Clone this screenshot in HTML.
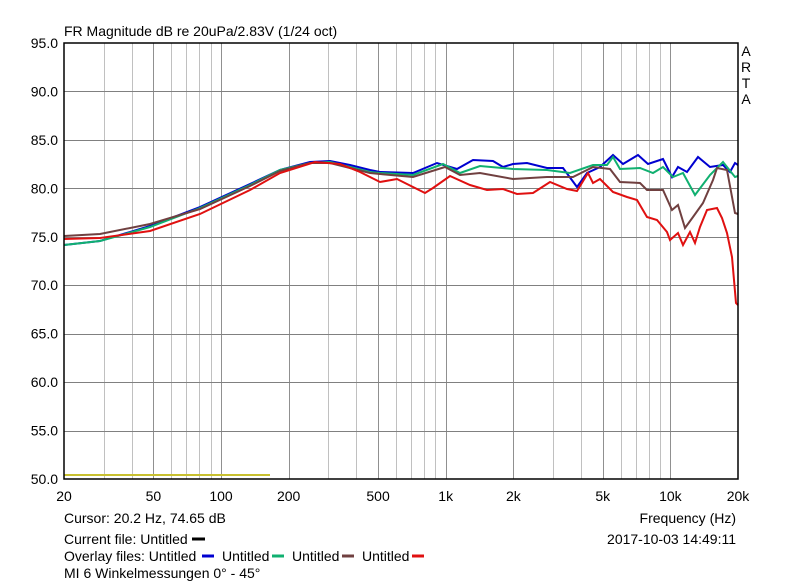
<!DOCTYPE html>
<html><head><meta charset="utf-8"><style>
body{margin:0;background:#fff;}
svg{display:block;font-family:"Liberation Sans",sans-serif;}
</style></head><body>
<svg width="800" height="585" viewBox="0 0 800 585" xmlns="http://www.w3.org/2000/svg">
<rect width="800" height="585" fill="#fff"/>
<g id="g"></g>
<text x="64" y="36" font-size="14" fill="#000">FR Magnitude dB re 20uPa/2.83V (1/24 oct)</text>
<g font-size="14" fill="#000" text-anchor="middle">
<text x="746" y="56">A</text><text x="746" y="72">R</text><text x="746" y="88">T</text><text x="746" y="104">A</text>
</g>
<g font-size="14" fill="#000" text-anchor="end" id="yl"></g>
<g font-size="14" fill="#000" text-anchor="middle" id="xl"></g>
<line x1="64" y1="475" x2="270" y2="475" stroke="#c8c030" stroke-width="2"/>
<polyline fill="none" stroke="#0000d0" stroke-width="2" points="64,245 100,241 150,226 200,207 250,184 280,170 310,162 330,161 350,165 370,170 380,172 413,173 437,163 457,169 473,160 493,161 503,167 513,164 527,163 547,168 563,168 577,187 587,173 600,167 613,155 623,164 638,155 648,164 663,159 672,177 678,167 687,172 698,157 710,167 723,165 730,172 735,163 738,165"/>
<polyline fill="none" stroke="#10b070" stroke-width="2" points="64,245 100,241 150,227 200,208 250,185 280,170 310,163 330,162 350,167 370,172 380,173 413,175 443,164 460,173 480,166 513,169 547,170 570,173 593,165 607,165 613,157 620,169 640,168 653,173 663,167 673,177 683,173 695,195 710,175 723,162 735,177 738,176"/>
<polyline fill="none" stroke="#704040" stroke-width="2" points="64,236 100,234 150,224 200,209 250,186 280,171 310,163 330,163 350,168 370,173 380,174 413,177 445,167 460,175 480,173 513,179 547,177 573,177 593,167 610,169 620,182 640,183 647,190 663,190 672,210 678,205 685,228 693,217 703,203 713,180 717,168 727,170 735,213 738,214"/>
<polyline fill="none" stroke="#e01010" stroke-width="2" points="64,239 100,238 150,231 200,214 250,190 280,173 315,162 340,164 360,172 380,182 397,179 413,187 425,193 433,188 450,176 470,185 487,190 503,189 517,194 533,193 550,182 567,189 577,191 588,173 593,183 600,179 613,192 627,197 637,200 647,217 657,220 667,232 670,240 678,233 683,245 690,232 695,243 700,227 707,210 717,208 722,218 727,233 732,257 736,303 738,305"/>
<rect x="64" y="43" width="674" height="436" fill="none" stroke="#000" stroke-width="1.5"/>
<g font-size="14" fill="#000">
<text x="64" y="523">Cursor: 20.2 Hz, 74.65 dB</text>
<text x="64" y="544">Current file: Untitled</text>
<line x1="192" y1="539" x2="205" y2="539" stroke="#000" stroke-width="3"/>
<text x="64" y="561">Overlay files: Untitled</text>
<line x1="202" y1="556" x2="214" y2="556" stroke="#0000d0" stroke-width="3"/>
<text x="222" y="561">Untitled</text>
<line x1="272" y1="556" x2="284" y2="556" stroke="#10b070" stroke-width="3"/>
<text x="292" y="561">Untitled</text>
<line x1="342" y1="556" x2="354" y2="556" stroke="#704040" stroke-width="3"/>
<text x="362" y="561">Untitled</text>
<line x1="412" y1="556" x2="424" y2="556" stroke="#e01010" stroke-width="3"/>
<text x="64" y="578">MI 6 Winkelmessungen 0° - 45°</text>
<text x="736" y="523" text-anchor="end">Frequency (Hz)</text>
<text x="736" y="544" text-anchor="end">2017-10-03  14:49:11</text>
</g>
</svg>
<script>
var ns="http://www.w3.org/2000/svg",g=document.getElementById('g');
function X(f){return 64+224.67*Math.log10(f/20);}
function ln(a,b,c,d,col){var l=document.createElementNS(ns,'line');l.setAttribute('x1',a);l.setAttribute('y1',b);l.setAttribute('x2',c);l.setAttribute('y2',d);l.setAttribute('stroke',col);l.setAttribute('stroke-width',1);g.appendChild(l);}
var fs=[];for(var d=10;d<=10000;d*=10)for(var k=1;k<10;k++){var f=k*d;if(f>20&&f<20000)fs.push(f);}
var major=[50,100,200,500,1000,2000,5000,10000];
fs.forEach(function(f){var x=Math.round(X(f))+0.5;ln(x,43,x,479,major.indexOf(f)>=0?'#909090':'#c0c0c0');});
for(var i=1;i<9;i++){var y=Math.round(43+i*48.44)+0.5;ln(64,y,738,y,'#808080');}
var yl=document.getElementById('yl');
for(var i=0;i<=9;i++){var t=document.createElementNS(ns,'text');t.setAttribute('x',58);t.setAttribute('y',43+i*48.44+5);t.textContent=(95-5*i).toFixed(1);yl.appendChild(t);}
var xl=document.getElementById('xl');
[[20,'20'],[50,'50'],[100,'100'],[200,'200'],[500,'500'],[1000,'1k'],[2000,'2k'],[5000,'5k'],[10000,'10k'],[20000,'20k']].forEach(function(p){var t=document.createElementNS(ns,'text');t.setAttribute('x',X(p[0]));t.setAttribute('y',501);t.textContent=p[1];xl.appendChild(t);});
</script>
</body></html>
